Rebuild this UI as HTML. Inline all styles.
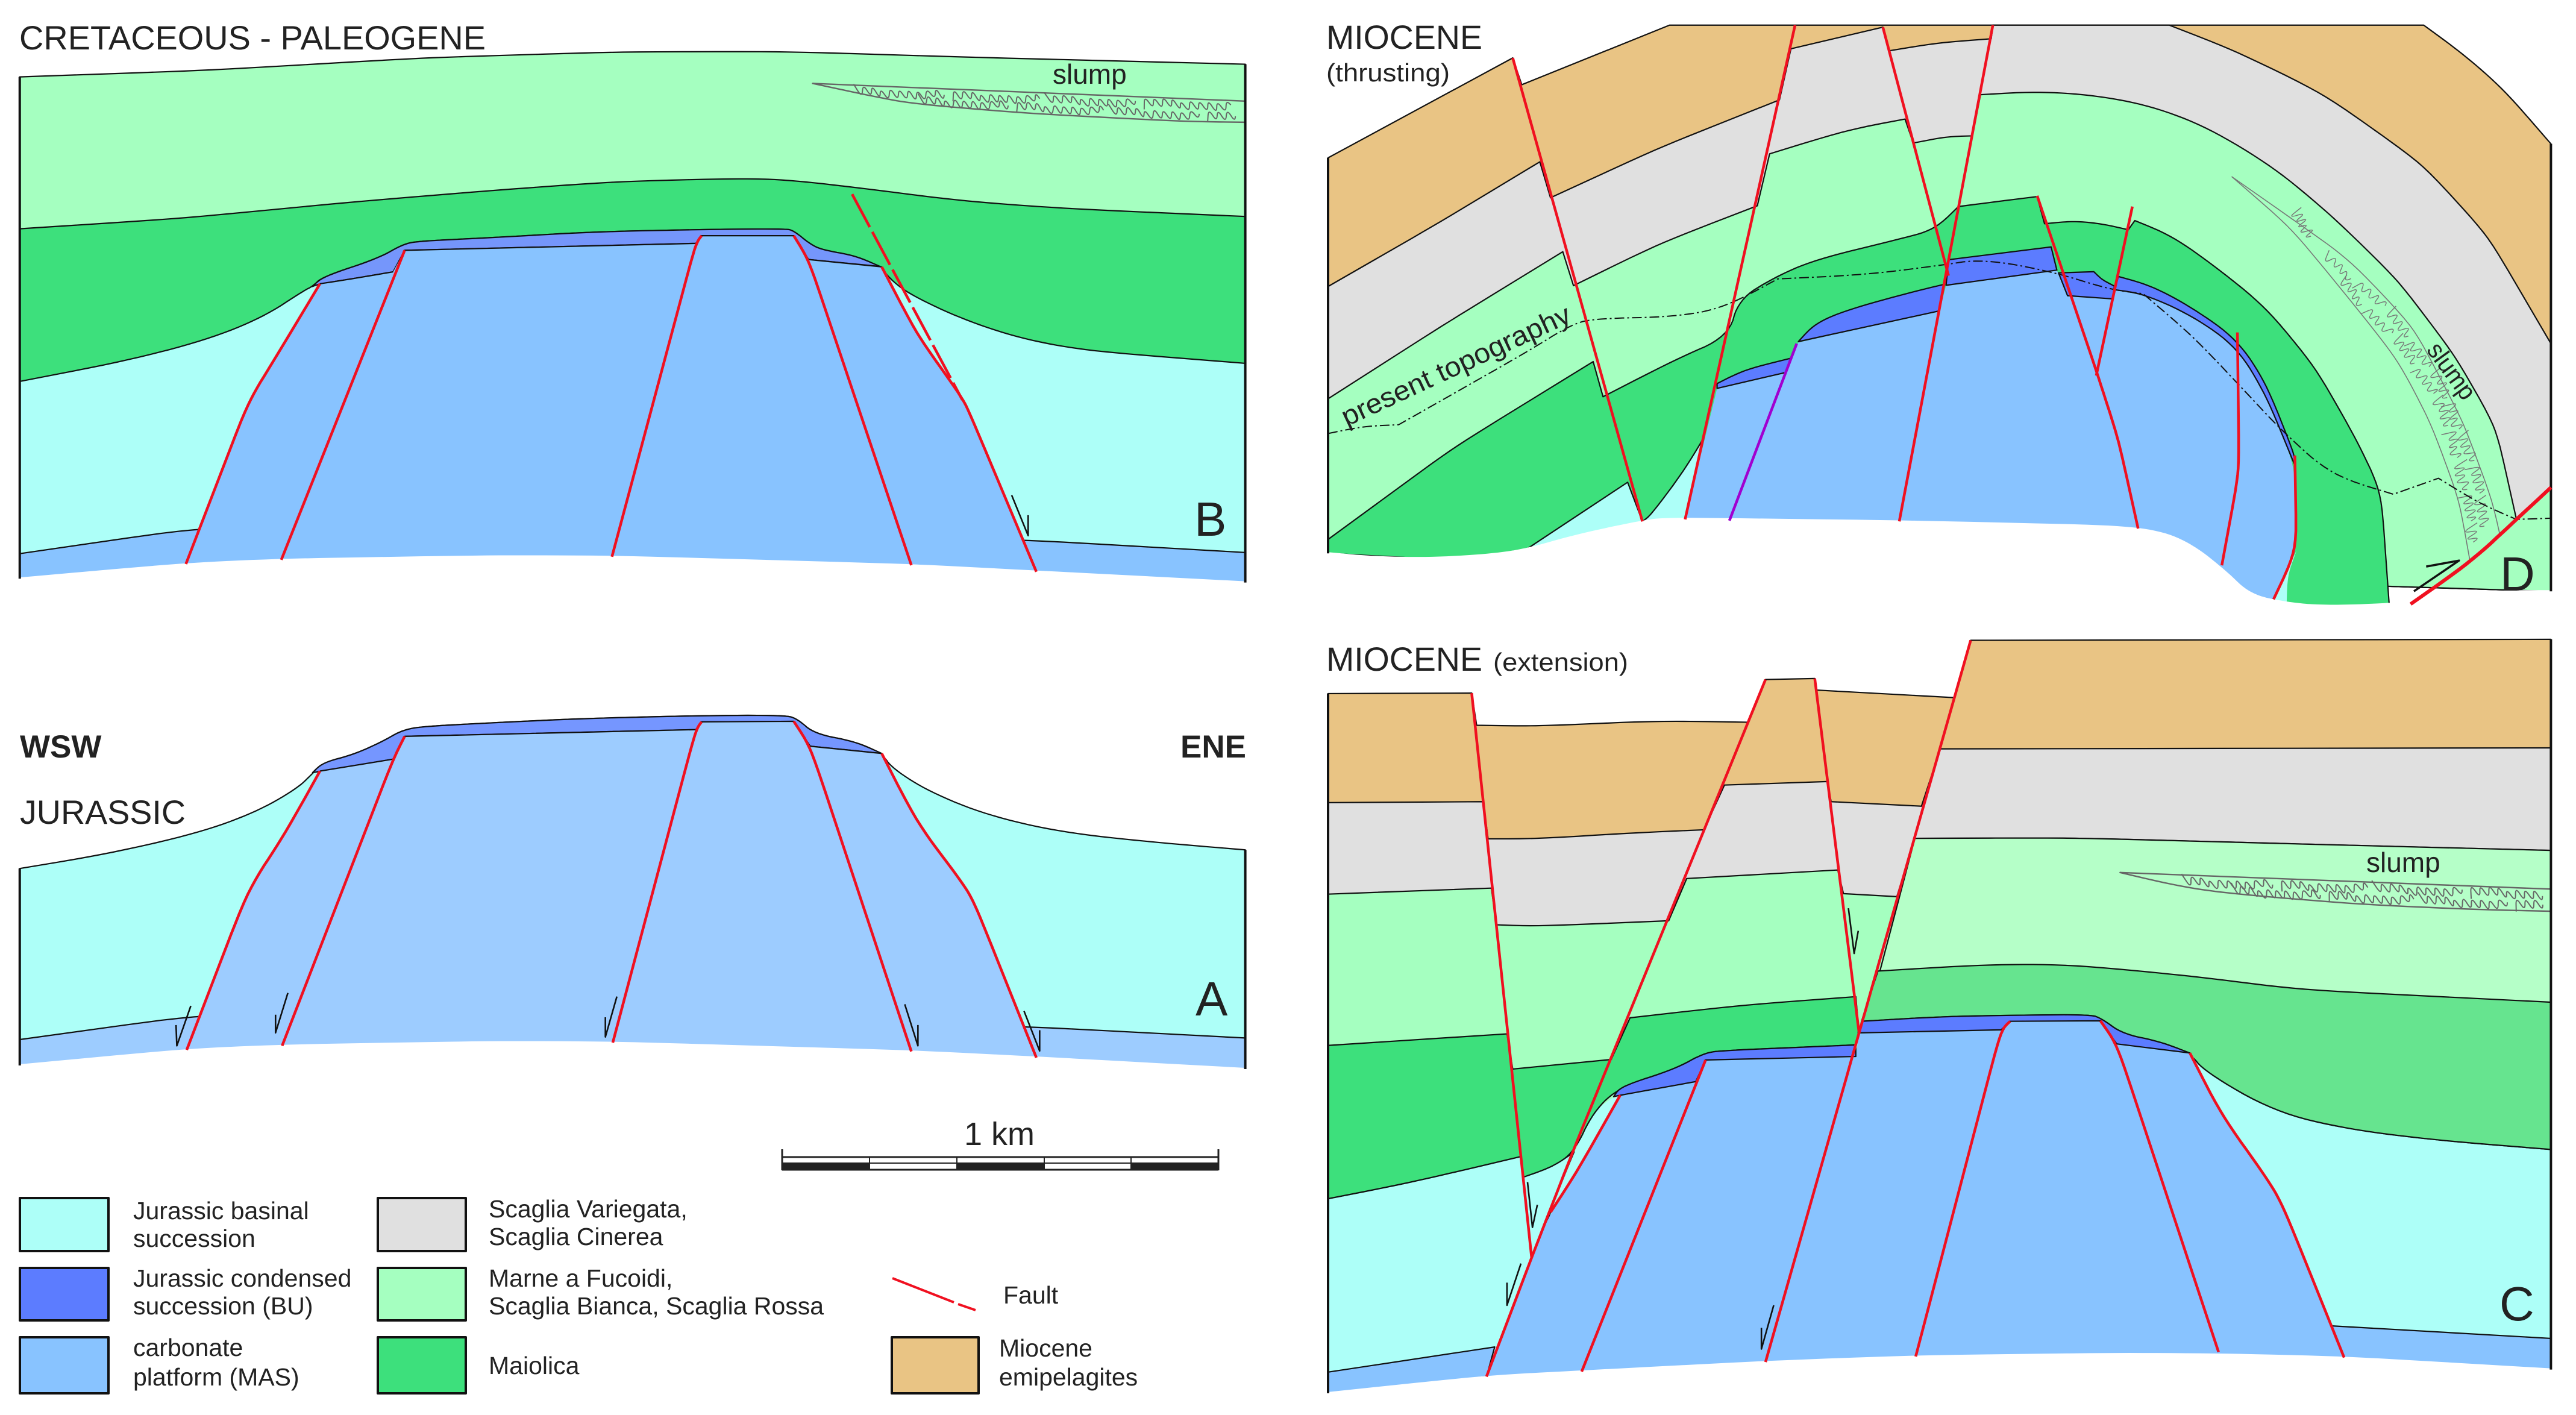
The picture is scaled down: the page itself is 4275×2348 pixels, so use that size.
<!DOCTYPE html>
<html lang="en">
<head>
<meta charset="utf-8">
<title>Geological cross-sections</title>
<style>
html,body{margin:0;padding:0;background:#fff;}
svg{display:block;position:absolute;left:0;top:0;}
polygon,polyline,path,line,rect{vector-effect:non-scaling-stroke;stroke-linejoin:round;}
text{font-family:"Liberation Sans",sans-serif;fill:#222;}
.bd{stroke:#111;stroke-width:2.2;}
.mask{fill:#fff;stroke:#fff;stroke-width:4;}
.frame{stroke:#111;stroke-width:4;fill:none;}
.flt{stroke:#f01020;stroke-width:4.5;fill:none;}
.arr{stroke:#111;stroke-width:2.6;fill:none;}
.topo{stroke:#111;stroke-width:2;fill:none;stroke-dasharray:16 5 3 5;}
.lens{stroke:#666;stroke-width:2.4;fill:none;}
.sq{stroke:#666;stroke-width:2;fill:none;}
.cy{fill:#adfff8;}.bl{fill:#88c3ff;}.co{fill:#5c7cff;}.gr{fill:#e0e0e0;}.lg{fill:#a5ffc0;}.dg{fill:#3de07c;}.tn{fill:#e9c484;}
.sw{stroke:#111;stroke-width:4;}
.lt{font-size:41px;}
.ttl{font-size:56px;}
.pl{font-size:80px;}
</style>
</head>
<body>
<svg xmlns="http://www.w3.org/2000/svg" width="4275" height="2348" viewBox="0 0 4275 2348">

<!-- PANEL B -->
<g transform="scale(1.365,0.638)">
  <polygon class="lg bd" points="24,200 250,183 520,150 750,135 950,134 1200,150 1514,167 1514,1515 24,1505"/>
  <polygon class="dg bd" points="24,595 220,568 430,525 600,495 750,472 900,464 960,468 1050,490 1170,523 1300,543 1514,563 1514,1515 24,1505"/>
  <polygon class="cy bd" points="24,992 150,940 250,885 320,825 370,755 380,745 392,720 460,672 490,635 510,627 600,618 720,603 850,597 955,595 965,600 985,635 1000,650 1040,665 1070,693 1085,732 1110,770 1170,830 1240,880 1320,912 1514,945 1514,1515 24,1505"/>
  <polygon class="bl bd" points="24,1440 243,1372 1245,1404 1514,1437 1514,1515 24,1505"/>
  <polygon fill="#7596fb" class="bd" points="380,745 392,720 460,672 490,635 510,627 600,618 720,603 850,597 955,595 965,600 985,635 1000,650 1040,665 1070,693 983,675 965,613 853,613 846,633 492,651 478,707 420,728 389,738"/>
  <polygon class="bl" points="226,1467 302,1045 335,930 389,738 420,728 478,707 492,651 846,633 853,613 965,613 983,675 1072,694 1115,870 1170,1035 1180,1080 1260,1487 1108,1470 744,1448 600,1447 342,1456"/>
  <polyline fill="none" class="bd" points="389,738 420,728 478,707"/>
  <polyline fill="none" class="bd" points="492,651 846,633 853,613 965,613 983,675 1072,694"/>
  <polygon class="lens" points="988,217 1514,263 1514,318 1440,316 1250,295 1110,270 1060,250"/>
  <path class="sq" id="sqB1"/>
  <path class="sq" id="sqB2"/>
  <polygon class="mask" points="24,1505 226,1467 342,1456 600,1447 744,1448 1108,1470 1260,1487 1514,1515 1514,1540 24,1540"/>
  <polyline class="frame" points="24,200 24,1505"/>
  <polyline class="frame" points="1514,167 1514,1515"/>
  <polyline class="flt" points="226,1467 302,1045 335,930 389,738"/>
  <polyline class="flt" points="342,1456 492,651"/>
  <polyline class="flt" points="744,1448 846,633 853,613"/>
  <polyline class="flt" points="1108,1470 983,675 965,613"/>
  <polyline class="flt" points="1260,1487 1180,1080 1170,1035 1115,870 1072,694"/>
  <polyline class="flt" style="stroke-dasharray:62 9" points="1036,505 1170,1040"/>
  <polyline class="arr" points="1230,1288 1250,1393 1250,1340"/>
</g>

<!-- PANEL A -->
<g transform="translate(0,1000) scale(1.365,0.86)">
  <polygon class="cy bd" points="24,513 130,485 240,445 310,405 360,360 380,330 392,309 430,293 465,268 490,245 520,238 700,224 850,218 955,217 970,225 990,253 1040,268 1072,291 1085,320 1130,365 1200,410 1290,443 1400,462 1514,477 1514,900 24,893"/>
  <polygon fill="#9dccff" class="bd" points="24,843 243,795 1250,818 1514,840 1514,900 24,893"/>
  <polygon fill="#7596ff" class="bd" points="380,328 392,309 430,293 465,268 490,245 520,238 700,224 850,218 955,217 970,225 990,253 1040,268 1072,291 985,277 965,229 853,230 846,245 492,258 478,302"/>
  <polygon fill="#9dccff" points="227,863 302,553 345,450 389,325 478,302 492,258 846,245 853,230 965,229 985,277 1072,291 1115,425 1170,540 1185,580 1260,878 1108,866 745,849 600,848 343,855"/>
  <polyline fill="none" class="bd" points="389,325 478,302"/>
  <polyline fill="none" class="bd" points="492,258 846,245 853,230 965,229 985,277 1072,291"/>
  <polygon class="mask" points="24,893 227,863 343,855 600,848 745,849 1108,866 1260,878 1514,900 1514,925 24,925"/>
  <polyline class="frame" points="24,513 24,893"/>
  <polyline class="frame" points="1514,477 1514,900"/>
  <polyline class="flt" points="227,863 302,553 345,450 389,325"/>
  <polyline class="flt" points="343,855 478,302 492,258"/>
  <polyline class="flt" points="745,849 846,245 853,230"/>
  <polyline class="flt" points="1108,866 985,277 965,229"/>
  <polyline class="flt" points="1260,878 1185,580 1170,540 1115,425 1072,291"/>
  <polyline class="arr" points="232,778 215,855 214,815"/>
  <polyline class="arr" points="350,753 335,830 335,795"/>
  <polyline class="arr" points="750,760 736,838 736,800"/>
  <polyline class="arr" points="1100,775 1116,855 1116,815"/>
  <polyline class="arr" points="1245,788 1264,865 1264,825"/>
</g>

<!-- PANEL D -->
<g transform="translate(2140,0) scale(1.362,0.663)">
  <polygon class="tn bd" points="47,395 272,145 283,212 463,63 1382,63 1430,135 1480,225 1537,360 1537,1480 47,1385"/>
  <polygon class="gr bd" points="47,717 180,560 305,405 318,495 450,370 597,250 611,122 723,68 731,127 790,107 855,97 857,63 1072,63 1150,125 1260,235 1380,410 1460,590 1537,860 1537,1480 47,1385"/>
  <polygon class="lg bd" points="47,998 190,810 333,630 346,715 450,610 570,515 585,385 680,325 750,298 760,358 800,342 832,340 842,237 910,229 980,238 1050,265 1120,320 1200,420 1270,540 1350,700 1420,890 1470,1070 1495,1300 1537,1220 1537,1480 47,1385"/>
  <polygon class="dg bd" points="47,1350 200,1120 370,905 382,993 470,900 535,842 547,750 590,695 640,650 740,600 786,575 815,517 860,505 911,492 920,560 955,553 990,560 1022,575 1030,552 1075,590 1130,670 1190,770 1250,920 1300,1100 1330,1230 1340,1515 1260,1518 47,1385"/>
  <polygon class="cy bd" points="287,1377 412,1207 430,1305"/>
  <polygon class="cy bd" points="430,1305 440,1290 480,1180 505,1095 482,1300"/>
  <polygon class="cy" points="1199,1500 1227,1378 1216,1440 1215,1510"/>
  <polygon class="bl" points="482,1300 521,972 605,932 620,857 792,778 800,714 935,676 948,740 1003,748 1005,725 1040,735 1100,790 1155,870 1190,990 1225,1165 1227,1378 1199,1500 1170,1490 1140,1430 1100,1365 1060,1330 1000,1317 740,1305"/>
  <polygon class="co bd" points="521,960 555,925 610,897 605,932 521,972"/>
  <polygon class="co bd" points="620,855 640,810 680,775 760,730 797,712 792,778"/>
  <polygon class="co bd" points="803,650 928,618 935,676 800,714"/>
  <polygon class="co bd" points="937,683 980,680 990,700 1005,716 1003,748 948,740"/>
  <polygon class="co bd" points="1010,692 1050,715 1100,770 1155,850 1190,960 1225,1140 1225,1165 1190,990 1155,870 1100,790 1040,735 1005,725"/>
  <polyline class="lens" style="stroke-width:1.6;stroke:#777" points="1148,442 1230,560 1292,651 1370,820 1430,1056 1465,1250 1475,1340"/>
  <polyline class="lens" style="stroke-width:1.6;stroke:#777" points="1148,442 1220,570 1292,750 1350,900 1390,1056 1425,1250 1438,1400"/>
  <path class="sq" style="stroke-width:1.5;stroke:#777" id="sqD0"/>
  <path class="sq" style="stroke-width:1.5;stroke:#777" id="sqD1"/>
  <path class="sq" style="stroke-width:1.5;stroke:#777" id="sqD2"/>
  <polygon class="mask" points="47,1385 100,1395 170,1398 240,1390 287,1377 350,1340 430,1305 460,1298 740,1305 1000,1317 1060,1330 1100,1365 1140,1430 1170,1490 1215,1510 1260,1518 1340,1513 1400,1500 1470,1480 1537,1480 1540,1540 40,1540"/>
  <polyline class="frame" points="47,395 47,1385"/>
  <polyline class="frame" points="1537,360 1537,1480"/>
  <polyline class="topo" points="47,1085 90,1067 133,1063 200,985 290,880 345,810 375,797 470,793 530,770 595,698 700,688 790,665 845,648 930,680 1000,725 1040,735 1100,840 1160,970 1210,1080 1270,1190 1345,1237 1400,1197 1450,1260 1495,1300 1537,1297"/>
  <polyline class="flt" points="272,145 430,1305"/>
  <polyline class="flt" points="616,63 482,1300"/>
  <polyline class="flt" points="723,68 803,690"/>
  <polyline class="flt" points="857,63 743,1305"/>
  <polyline class="flt" points="911,490 985,940 1010,1100 1034,1323"/>
  <polyline class="flt" points="1027,517 983,940"/>
  <polyline class="flt" style="stroke:#a000d0" points="618,860 536,1303"/>
  <polyline class="flt" points="1155,832 1157,1180 1136,1415"/>
  <polyline class="flt" points="1225,1140 1227,1378 1199,1500"/>
  <polyline class="flt" style="stroke-width:6" points="1537,1220 1495,1300 1440,1405 1366,1512"/>
  <polyline class="arr" style="stroke-width:3.5" points="1385,1418 1425,1403 1370,1480"/>
</g>

<!-- PANEL C -->
<g transform="translate(2140,1040) scale(1.362,0.834)">
  <polygon class="tn bd" points="47,133 222,132 228,196 300,198 450,187 558,190 580,105 640,103 642,126 810,141 830,27 1537,25 1537,1478 47,1525"/>
  <polygon class="gr bd" points="47,350 236,348 242,422 300,422 420,410 505,404 530,315 655,308 660,348 770,357 793,243 1537,241 1537,1478 47,1525"/>
  <polygon class="lg bd" points="47,532 246,520 252,593 300,596 462,585 484,501 668,484 675,531 740,537 762,421 950,420 1250,433 1537,445 1537,1478 47,1525"/>
  <polygon fill="#b5ffc8" class="bd" points="762,421 950,420 1250,433 1537,445 1537,760 717,700"/>
  <polygon class="cy bd" points="47,1138 150,1105 282,1054 285,1095 320,1075 347,1045 318,1165 240,1492 47,1525"/>
  <polygon class="cy" points="347,1045 370,965 395,935 403,932 350,1085 318,1165"/>
  <polygon class="cy bd" points="1097,848 1115,885 1200,965 1290,1000 1400,1022 1537,1040 1537,1478 1285,1454"/>
  <polygon class="bl bd" points="47,1483 250,1433 240,1492 47,1525"/>
  <polygon class="bl bd" points="1270,1391 1537,1416 1537,1478 1285,1454"/>
  <polygon class="dg bd" points="47,833 265,810 272,880 392,861 415,778 550,753 690,736 694,808 690,832 530,843 505,848 470,880 403,915 370,965 347,1045 320,1075 285,1095 282,1054 150,1105 47,1138"/>
  <polygon fill="#66e48f" class="bd" points="717,685 850,672 950,672 1100,695 1230,722 1537,747 1537,1040 1400,1022 1290,1000 1200,965 1115,885 1097,848 1060,825 1015,810 990,780 975,771 800,775 697,785"/>
  <polygon class="bl" points="240,1492 295,1255 318,1165 350,1085 403,932 495,905 507,862 690,855 694,808 867,802 878,785 988,784 1008,830 1097,848 1135,970 1190,1095 1210,1150 1285,1454 1132,1448 1000,1447 763,1452 580,1463 356,1482"/>
  <polygon class="co bd" points="395,935 403,915 470,880 505,848 530,843 690,832 690,855 507,862 495,905 403,932"/>
  <polygon class="co bd" points="697,785 800,775 975,771 990,780 1015,810 1060,825 1097,848 1008,830 988,784 878,785 867,802 694,808"/>
  <polygon class="lens" points="1012,489 1537,522 1537,566 1450,563 1300,552 1140,530 1080,515"/>
  <path class="sq" id="sqC1"/>
  <path class="sq" id="sqC2"/>
  <polygon class="mask" points="47,1525 240,1492 356,1482 580,1463 763,1452 1000,1447 1132,1448 1285,1454 1537,1478 1545,1568 40,1568"/>
  <polyline class="frame" points="47,133 47,1525"/>
  <polyline class="frame" points="1537,25 1537,1478"/>
  <polyline class="flt" points="222,132 295,1255"/>
  <polyline class="flt" points="580,105 345,1045 295,1255 240,1492"/>
  <polyline class="flt" points="640,103 694,808"/>
  <polyline class="flt" points="830,27 694,808 580,1463"/>
  <polyline class="flt" points="318,1165 350,1085 403,932"/>
  <polyline class="flt" points="356,1482 507,862"/>
  <polyline class="flt" points="763,1452 867,802 878,785"/>
  <polyline class="flt" points="1132,1443 1008,830 988,784"/>
  <polyline class="flt" points="1285,1454 1210,1150 1190,1095 1135,970 1097,848"/>
  <polyline class="arr" points="681,560 688,650 693,605"/>
  <polyline class="arr" points="290,1105 296,1195 302,1150"/>
  <polyline class="arr" points="282,1267 265,1350 265,1305"/>
  <polyline class="arr" points="590,1350 575,1437 575,1395"/>
</g>

<!-- TEXT LABELS -->
<text class="ttl" x="32" y="82" textLength="774" lengthAdjust="spacingAndGlyphs">CRETACEOUS - PALEOGENE</text>
<text class="ttl" x="33" y="1367" textLength="275" lengthAdjust="spacingAndGlyphs">JURASSIC</text>
<text x="33" y="1257" font-size="53" font-weight="700">WSW</text>
<text x="1959" y="1257" font-size="53" font-weight="700">ENE</text>
<text class="ttl" x="2201" y="81" textLength="259" lengthAdjust="spacingAndGlyphs">MIOCENE</text>
<text x="2201" y="135" font-size="42" textLength="205" lengthAdjust="spacingAndGlyphs">(thrusting)</text>
<text class="ttl" x="2201" y="1113" textLength="259" lengthAdjust="spacingAndGlyphs">MIOCENE</text>
<text x="2478" y="1113" font-size="42" textLength="224" lengthAdjust="spacingAndGlyphs">(extension)</text>
<text class="pl" x="1982" y="889">B</text>
<text class="pl" x="1984" y="1685">A</text>
<text class="pl" x="4148" y="2191">C</text>
<text class="pl" x="4149" y="980">D</text>
<text x="1747" y="139" font-size="46">slump</text>
<text x="3927" y="1447" font-size="46">slump</text>
<text transform="translate(4026,581) rotate(54)" font-size="42" textLength="106" lengthAdjust="spacingAndGlyphs">slump</text>
<text transform="translate(2235,708) rotate(-25)" font-size="46" textLength="414" lengthAdjust="spacingAndGlyphs">present topography</text>

<!-- SCALE BAR -->
<g>
  <text x="1600" y="1900" font-size="54">1 km</text>
  <rect x="1298" y="1930" width="145" height="10" fill="#222"/>
  <rect x="1588" y="1930" width="145" height="10" fill="#222"/>
  <rect x="1877" y="1930" width="145" height="10" fill="#222"/>
  <line x1="1298" y1="1920" x2="2022" y2="1920" stroke="#222" stroke-width="3"/>
  <line x1="1298" y1="1930" x2="2022" y2="1930" stroke="#222" stroke-width="2"/>
  <line x1="1298" y1="1941" x2="2022" y2="1941" stroke="#222" stroke-width="3"/>
  <line x1="1298" y1="1907" x2="1298" y2="1942" stroke="#222" stroke-width="3"/>
  <line x1="2022" y1="1907" x2="2022" y2="1942" stroke="#222" stroke-width="3"/>
  <line x1="1443" y1="1920" x2="1443" y2="1940" stroke="#222" stroke-width="2"/>
  <line x1="1588" y1="1920" x2="1588" y2="1940" stroke="#222" stroke-width="2"/>
  <line x1="1733" y1="1920" x2="1733" y2="1940" stroke="#222" stroke-width="2"/>
  <line x1="1877" y1="1920" x2="1877" y2="1940" stroke="#222" stroke-width="2"/>
</g>

<!-- LEGEND -->
<g>
  <rect class="cy sw" x="33" y="1988" width="147" height="88"/>
  <text class="lt" x="221" y="2023">Jurassic basinal</text>
  <text class="lt" x="221" y="2069">succession</text>
  <rect class="co sw" x="33" y="2104" width="147" height="87"/>
  <text class="lt" x="221" y="2135">Jurassic condensed</text>
  <text class="lt" x="221" y="2181">succession (BU)</text>
  <rect class="bl sw" x="33" y="2219" width="147" height="93"/>
  <text class="lt" x="221" y="2250">carbonate</text>
  <text class="lt" x="221" y="2299">platform (MAS)</text>
  <rect class="gr sw" x="627" y="1988" width="146" height="88"/>
  <text class="lt" x="811" y="2020">Scaglia Variegata,</text>
  <text class="lt" x="811" y="2066">Scaglia Cinerea</text>
  <rect class="lg sw" x="627" y="2104" width="146" height="87"/>
  <text class="lt" x="811" y="2135">Marne a Fucoidi,</text>
  <text class="lt" x="811" y="2181">Scaglia Bianca, Scaglia Rossa</text>
  <rect class="dg sw" x="627" y="2219" width="146" height="93"/>
  <text class="lt" x="811" y="2280">Maiolica</text>
  <line x1="1481" y1="2121" x2="1583" y2="2161" stroke="#f01020" stroke-width="4"/>
  <line x1="1590" y1="2164" x2="1619" y2="2174" stroke="#f01020" stroke-width="4"/>
  <text class="lt" x="1665" y="2163">Fault</text>
  <rect class="tn sw" x="1480" y="2219" width="144" height="93"/>
  <text class="lt" x="1658" y="2251">Miocene</text>
  <text class="lt" x="1658" y="2299">emipelagites</text>
</g>
</svg>
<script>
// Rounds gentle bends of the hand-traced outlines; sharp corners and frame-edge vertices stay sharp.
function smoothShape(el) {
  var closed = el.tagName.toLowerCase() === 'polygon';
  var pts = el.getAttribute('points').trim().split(/\s+/).map(function (s) {
    return s.split(',').map(Number);
  });
  for (var it = 0; it < 3; it++) {
    var out = [];
    var n = pts.length;
    for (var i = 0; i < n; i++) {
      if (!closed && (i === 0 || i === n - 1)) { out.push(pts[i]); continue; }
      var p = pts[i], a = pts[(i - 1 + n) % n], b = pts[(i + 1) % n];
      var onFrame = p[0] === 24 || p[0] === 47 || p[0] === 1514 || p[0] === 1537 || p[1] === 63;
      var ax = p[0] - a[0], ay = p[1] - a[1], bx = b[0] - p[0], by = b[1] - p[1];
      var la = Math.hypot(ax, ay), lb = Math.hypot(bx, by);
      var cos = (ax * bx + ay * by) / (la * lb);
      var turn = Math.acos(Math.max(-1, Math.min(1, cos))) * 180 / Math.PI;
      if (onFrame || turn > 42 || la === 0 || lb === 0) { out.push(p); continue; }
      var ta = Math.min(0.25, 30 / la), tb = Math.min(0.25, 30 / lb);
      out.push([p[0] - ax * ta, p[1] - ay * ta]);
      out.push([p[0] + bx * tb, p[1] + by * tb]);
    }
    pts = out;
  }
  el.setAttribute('points', pts.map(function (q) {
    return q[0].toFixed(1) + ',' + q[1].toFixed(1);
  }).join(' '));
}
document.querySelectorAll('polygon, polyline:not(.arr):not(.frame)').forEach(smoothShape);

// Draws the decorative wavy fold texture inside the slump lenses.
var foldScale = [1, 0.8, 1.1, 0.7, 1, 0.9, 0.6, 1.1, 0.85, 1, 0.75];
function squiggle(id, pts, amp, step, slant, gapEvery) {
  var crest = [];
  var k = 0;
  for (var i = 0; i < pts.length - 1; i++) {
    var a = pts[i], b = pts[i + 1];
    var dx = b[0] - a[0], dy = b[1] - a[1];
    var len = Math.hypot(dx, dy);
    var n = Math.max(1, Math.round(len / step));
    var ux = dx / len, uy = dy / len;
    for (var j = 0; j < n; j++) {
      var t = j / n;
      var s = (k % 2 ? 1 : -1) * amp * foldScale[k % foldScale.length];
      var shift = (k % 2 ? 1 : -1) * slant;
      crest.push([a[0] + dx * t - uy * s + ux * shift, a[1] + dy * t + ux * s + uy * shift, k % gapEvery === gapEvery - 1]);
      k++;
    }
  }
  var d = '';
  var start = true;
  for (var m = 0; m < crest.length - 1; m++) {
    var c = crest[m], e = crest[m + 1];
    var mx = ((c[0] + e[0]) / 2).toFixed(1), my = ((c[1] + e[1]) / 2).toFixed(1);
    if (c[2]) { start = true; continue; }
    if (start) { d += 'M' + c[0].toFixed(1) + ' ' + c[1].toFixed(1) + ' L' + mx + ' ' + my + ' '; start = false; continue; }
    d += 'Q' + c[0].toFixed(1) + ' ' + c[1].toFixed(1) + ' ' + mx + ' ' + my + ' ';
  }
  document.getElementById(id).setAttribute('d', d);
}
squiggle('sqB1', [[1040,238],[1250,258],[1510,277]], 19, 5.5, 4, 21);
squiggle('sqB2', [[1118,263],[1300,285],[1510,306]], 19, 5.5, 4, 21);
squiggle('sqC1', [[1090,508],[1300,520],[1535,533]], 16, 5.5, 4, 21);
squiggle('sqC2', [[1150,526],[1340,542],[1535,556]], 16, 5.5, 4, 21);
squiggle('sqD0', [[1222,530],[1250,600]], 14, 7, 6, 31);
squiggle('sqD1', [[1260,640],[1325,745],[1395,930],[1438,1130],[1460,1330]], 13, 9, 8, 9);
squiggle('sqD2', [[1280,700],[1340,830],[1395,980],[1425,1150],[1445,1370]], 13, 9, 8, 9);
</script>
</body>
</html>
